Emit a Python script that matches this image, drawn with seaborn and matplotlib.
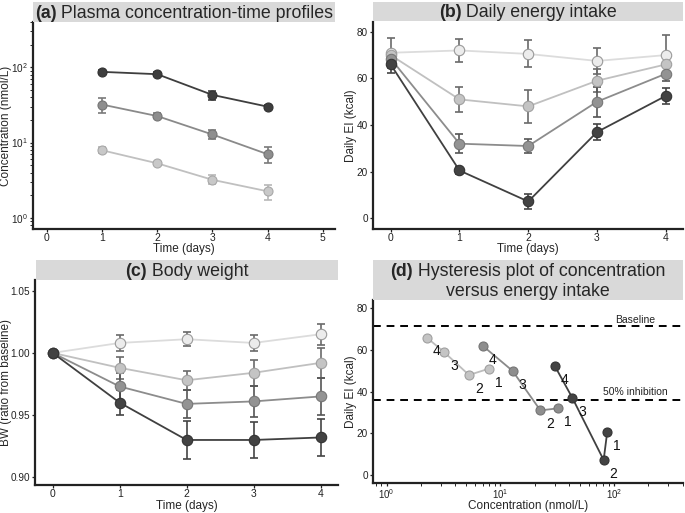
import numpy as np
import pandas as pd
import matplotlib
matplotlib.use("Agg")
import matplotlib.pyplot as plt
import seaborn as sns
from matplotlib.patches import Rectangle
from matplotlib.ticker import LogLocator, NullFormatter

# ---------------- data ----------------
# (a) plasma concentration (nmol/L), days 1-4, three dose groups
pk_days = [1, 2, 3, 4]
pk_low = [7.9, 5.3, 3.2, 2.25]
pk_low_lo = [7.3, 5.0, 2.8, 1.75]
pk_low_hi = [8.7, 5.6, 3.65, 2.75]
pk_mid = [32, 22.5, 12.8, 7.0]
pk_mid_lo = [25, 21, 11.3, 5.4]
pk_mid_hi = [39, 24.5, 14.5, 8.6]
pk_high = [87, 81, 43, 30]
pk_high_lo = [81, 76, 37, 28.5]
pk_high_hi = [93, 86, 49, 32]

# (b) daily energy intake (kcal), days 0-4, four groups
ei_days = [0, 1, 2, 3, 4]
ei_veh = [71, 72, 70.5, 67.5, 70]
ei_veh_err = [6.5, 4.8, 5.8, 5.5, 8.5]
ei_low = [70, 51, 48, 59, 66]
ei_low_err = [0, 5.3, 7.0, 5.0, 0]
ei_mid = [68.5, 32, 31, 50, 62]
ei_mid_err = [0, 4.0, 3.2, 6.5, 3.0]
ei_high = [66, 20.5, 7.2, 37, 52.5]
ei_high_err = [3.5, 1.5, 3.2, 3.5, 3.5]

# (c) body weight ratio from baseline
bw_days = [0, 1, 2, 3, 4]
bw_veh = [1.000, 1.008, 1.011, 1.008, 1.015]
bw_veh_err = [0, 0.0065, 0.0055, 0.0065, 0.0085]
bw_low = [1.000, 0.988, 0.978, 0.984, 0.992]
bw_low_err = [0, 0.009, 0.0075, 0.0105, 0.012]
bw_mid = [1.000, 0.973, 0.959, 0.961, 0.965]
bw_mid_err = [0, 0.011, 0.011, 0.0125, 0.015]
bw_high = [1.000, 0.960, 0.930, 0.930, 0.932]
bw_high_err = [0, 0.010, 0.015, 0.0145, 0.0145]

# (d) hysteresis: concentration vs energy intake, day labels
hy_labels = ["1", "2", "3", "4"]
baseline_ei = 71.5
half_ei = 35.8

# ---------------- style ----------------
sns.set_theme(style="ticks")
plt.rcParams["font.family"] = ["Liberation Sans", "DejaVu Sans"]
plt.rcParams["mathtext.fontset"] = "custom"
plt.rcParams["mathtext.rm"] = "Liberation Sans"
plt.rcParams["mathtext.it"] = "Liberation Sans:italic"
plt.rcParams["axes.linewidth"] = 1.6
plt.rcParams["xtick.major.size"] = 2.5
plt.rcParams["ytick.major.size"] = 2.5
plt.rcParams["xtick.major.width"] = 0.9
plt.rcParams["ytick.major.width"] = 0.9
plt.rcParams["xtick.labelsize"] = 7.5
plt.rcParams["ytick.labelsize"] = 7.2
plt.rcParams["axes.labelsize"] = 8.5

W, H = 685, 513
fig = plt.figure(figsize=(W / 100, H / 100), dpi=100)
fig.patch.set_facecolor("white")
TITLE_FS = 12.8


def px_axes(l, t, r, b):
    return fig.add_axes([l / W, 1 - b / H, (r - l) / W, (b - t) / H])


def band(l, t, r, b, tag, lines):
    fig.patches.append(Rectangle((l / W, 1 - b / H), (r - l) / W, (b - t) / H,
                                 transform=fig.transFigure, facecolor="#d9d9d9",
                                 edgecolor="none", zorder=0))
    cx = (l + r) / 2 / W
    n = len(lines)
    hgt = (b - t) / n
    texts = []
    for i, ln in enumerate(lines):
        yc = 1 - (t + hgt * (i + 0.5) + 1) / H
        if i == 0:
            t1 = fig.text(cx, yc, tag, fontsize=TITLE_FS, fontweight="bold", va="center", ha="left")
            t2 = fig.text(cx, yc, " " + ln, fontsize=TITLE_FS, va="center", ha="left")
            texts.append((t1, t2))
        else:
            fig.text(cx, yc, ln, fontsize=TITLE_FS, va="center", ha="center")
    fig.canvas.draw()
    r_ = fig.canvas.get_renderer()
    for t1, t2 in texts:
        w1 = t1.get_window_extent(r_).width
        w2 = t2.get_window_extent(r_).width
        x0 = cx - (w1 + w2) / 2 / W
        t1.set_x(x0)
        t2.set_x(x0 + w1 / W)


def style_ax(ax, xl, yl, xlab_y, ylab_x):
    sns.despine(ax=ax)
    for s in ["left", "bottom"]:
        ax.spines[s].set_color("#222222")
    ax.tick_params(colors="#222222", labelcolor="#222222", pad=1)
    ax.tick_params(axis="x", pad=0.5)
    ax.set_facecolor("white")
    ax.set_xlabel(xl)
    ax.set_ylabel(yl)
    ax.xaxis.set_label_coords(0.5, xlab_y)
    ax.yaxis.set_label_coords(ylab_x, 0.5)
    ax.xaxis.label.set_va("center")
    ax.yaxis.label.set_va("center")


def series(ax, x, y, lo=None, hi=None, err=None, fill="#888", edge="#555", line="#888",
           ecol="#555", ms=8):
    if err is not None:
        ax.errorbar(x, y, yerr=err, fmt="none", ecolor=ecol, elinewidth=1.2,
                    capsize=2.8, capthick=1.2, zorder=2)
    elif lo is not None:
        yerr = [np.array(y) - np.array(lo), np.array(hi) - np.array(y)]
        ax.errorbar(x, y, yerr=yerr, fmt="none", ecolor=ecol, elinewidth=1.2,
                    capsize=2.8, capthick=1.2, zorder=2)
    sns.lineplot(x=x, y=y, ax=ax, color=line, linewidth=1.3, marker="o", markersize=ms,
                 markerfacecolor=fill, markeredgecolor=edge, markeredgewidth=0.8,
                 zorder=3, legend=False)


# ---------------- (a) ----------------
axa = px_axes(33, 22, 335, 229)
series(axa, pk_days, pk_low, pk_low_lo, pk_low_hi, fill="#c8c8c8", edge="#a8a8a8",
       line="#c0c0c0", ecol="#b8b8b8", ms=6.5)
series(axa, pk_days, pk_mid, pk_mid_lo, pk_mid_hi, fill="#8e8e8e", edge="#757575",
       line="#8a8a8a", ecol="#7a7a7a", ms=6.5)
series(axa, pk_days, pk_high, pk_high_lo, pk_high_hi, fill="#3e3e3e", edge="#333333",
       line="#3e3e3e", ecol="#444444", ms=6.5)
axa.set_yscale("log")
axa.set_ylim(0.71, 400)
axa.set_xlim(-0.25, 5.22)
axa.set_xticks([0, 1, 2, 3, 4, 5])
axa.set_yticks([1, 10, 100])
axa.set_yticklabels([r"$10^0$", r"$10^1$", r"$10^2$"])
axa.yaxis.set_minor_locator(LogLocator(base=10, subs=np.arange(2, 10), numticks=10))
axa.yaxis.set_minor_formatter(NullFormatter())
axa.tick_params(axis="y", which="minor", length=2, width=0.7)
style_ax(axa, "Time (days)", "Concentration (nmol/L)", (229 - 249) / 207, (6 - 33) / 302)
band(33, 2, 335, 22, "(a)", ["Plasma concentration-time profiles"])

# ---------------- (b) ----------------
axb = px_axes(373, 22, 683, 229)
series(axb, ei_days, ei_veh, err=ei_veh_err, fill="#ececec", edge="#9a9a9a",
       line="#dcdcdc", ecol="#6a6a6a", ms=7.5)
series(axb, ei_days, ei_low, err=ei_low_err, fill="#c4c4c4", edge="#a0a0a0",
       line="#c0c0c0", ecol="#6a6a6a", ms=7.5)
series(axb, ei_days, ei_mid, err=ei_mid_err, fill="#939393", edge="#777777",
       line="#8c8c8c", ecol="#555555", ms=7.5)
series(axb, ei_days, ei_high, err=ei_high_err, fill="#434343", edge="#333333",
       line="#404040", ecol="#444444", ms=7.5)
axb.set_xlim(-0.257, 4.25)
axb.set_ylim(-4.6, 84.2)
axb.set_xticks([0, 1, 2, 3, 4])
axb.set_yticks([0, 20, 40, 60, 80])
style_ax(axb, "Time (days)", "Daily EI (kcal)", (229 - 249) / 207, (351 - 373) / 310)
band(373, 2, 683, 21, "(b)", ["Daily energy intake"])

# ---------------- (c) ----------------
axc = px_axes(35, 280, 338, 485)
series(axc, bw_days, bw_veh, err=bw_veh_err, fill="#ececec", edge="#9a9a9a",
       line="#dcdcdc", ecol="#6a6a6a", ms=7.5)
series(axc, bw_days, bw_low, err=bw_low_err, fill="#c4c4c4", edge="#a0a0a0",
       line="#c0c0c0", ecol="#6a6a6a", ms=7.5)
series(axc, bw_days, bw_mid, err=bw_mid_err, fill="#939393", edge="#777777",
       line="#8c8c8c", ecol="#555555", ms=7.5)
series(axc, bw_days, bw_high, err=bw_high_err, fill="#434343", edge="#333333",
       line="#404040", ecol="#444444", ms=7.5)
axc.set_xlim(-0.264, 4.26)
axc.set_ylim(0.8938, 1.0586)
axc.set_xticks([0, 1, 2, 3, 4])
axc.set_yticks([0.90, 0.95, 1.00, 1.05])
axc.set_yticklabels(["0.90", "0.95", "1.00", "1.05"])
style_ax(axc, "Time (days)", "BW (ratio from baseline)", (485 - 505.5) / 205, (6 - 35) / 303)
band(36, 260, 338, 280, "(c)", ["Body weight"])

# ---------------- (d) ----------------
axd = px_axes(373, 300, 683, 483)
axd.axhline(baseline_ei, color="black", linestyle=(0, (4, 3)), linewidth=1.4, zorder=1)
axd.axhline(half_ei, color="black", linestyle=(0, (4, 3)), linewidth=1.4, zorder=1)
groups = [
    (pk_low, ei_low[1:], "#c4c4c4", "#a0a0a0", "#bdbdbd"),
    (pk_mid, ei_mid[1:], "#8e8e8e", "#757575", "#8a8a8a"),
    (pk_high, ei_high[1:], "#434343", "#333333", "#404040"),
]
for conc, ei, fill, edge, line in groups:
    sns.lineplot(x=conc, y=ei, ax=axd, sort=False, color=line, linewidth=1.3, marker="o",
                 markersize=6.5, markerfacecolor=fill, markeredgecolor=edge,
                 markeredgewidth=0.8, zorder=3, legend=False)
    for xv, yv, lab in zip(conc, ei, hy_labels):
        axd.annotate(lab, (xv, yv), xytext=(7, -10), textcoords="offset points",
                     fontsize=10, ha="center", va="center", color="#111111")
axd.text(102, 74.5, "Baseline", fontsize=7.5, ha="left", va="center", color="#222222")
axd.text(80, 39.8, "50% inhibition", fontsize=7.5, ha="left", va="center", color="#222222")
axd.set_xscale("log")
axd.set_xlim(10 ** -0.12, 404)
axd.set_ylim(-3.84, 84)
axd.set_xticks([1, 10, 100])
axd.set_xticklabels([r"$10^0$", r"$10^1$", r"$10^2$"], fontsize=7)
axd.xaxis.set_minor_locator(LogLocator(base=10, subs=np.arange(2, 10), numticks=10))
axd.xaxis.set_minor_formatter(NullFormatter())
axd.tick_params(axis="x", which="minor", length=2, width=0.7)
axd.set_yticks([0, 20, 40, 60, 80])
style_ax(axd, "Concentration (nmol/L)", "Daily EI (kcal)", (483 - 506.5) / 183, (351 - 373) / 310)
band(373, 260, 683, 300, "(d)", ["Hysteresis plot of concentration", "versus energy intake"])

fig.savefig("out.png", dpi=100, facecolor="white")
